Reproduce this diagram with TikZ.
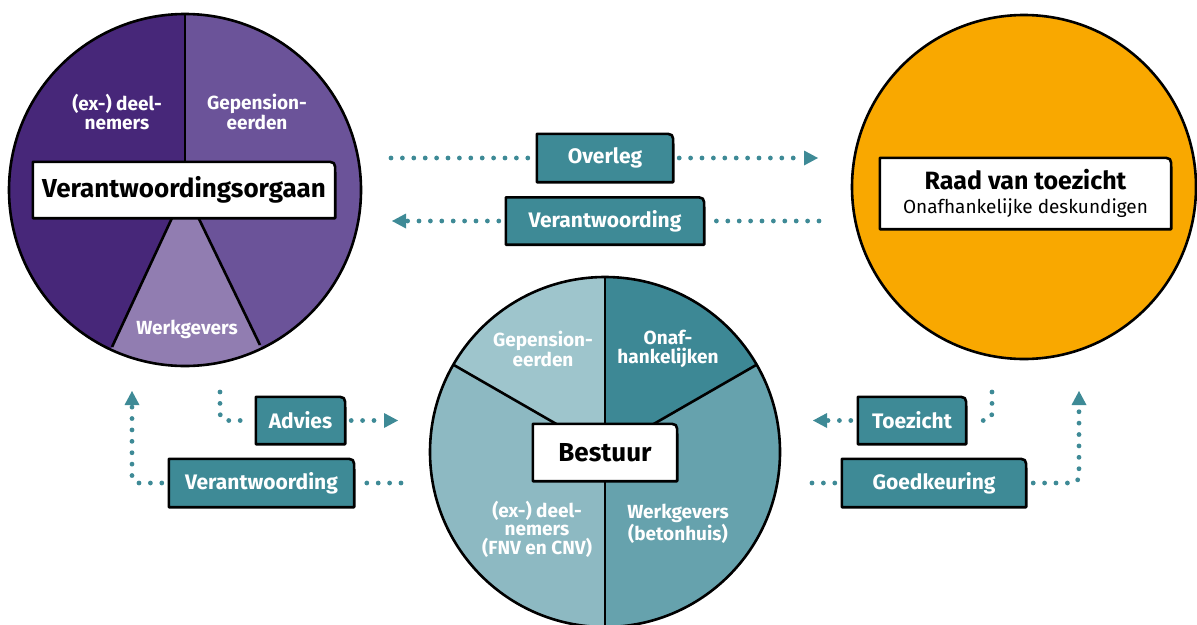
\documentclass[tikz,border=0pt]{standalone}
\usepackage{fontspec}
\setmainfont{Fira Sans}
\usetikzlibrary{arrows.meta}
\definecolor{tealbox}{HTML}{3E8A96}
\definecolor{pdark}{HTML}{472779}
\definecolor{pmid}{HTML}{6B5399}
\definecolor{plight}{HTML}{917DB1}
\definecolor{orangec}{HTML}{F9A800}
\definecolor{tdeel}{HTML}{8DB9C2}
\definecolor{tgep}{HTML}{9EC5CC}
\definecolor{tonaf}{HTML}{3D8895}
\definecolor{twerk}{HTML}{66A2AD}
\pgfdeclarelayer{bg}\pgfdeclarelayer{mid}\pgfsetlayers{bg,mid,main}
\newcommand\tagshape[2]{\begin{pgfonlayer}{mid}\draw[line width=2.6pt, fill=#2, line join=round] (#1.south west) -- (#1.north west) -- ([xshift=-11pt]#1.north east) .. controls (#1.north east) .. ([yshift=-11pt]#1.north east) -- (#1.south east) -- cycle;\end{pgfonlayer}}
\tikzset{
  tagbox/.style={inner sep=0pt, text=white, font=\bfseries\fontsize{21}{23}\selectfont},
  whitebox/.style={inner sep=0pt, text=black, font=\bfseries\fontsize{26}{28}\selectfont},
  pietext/.style={text=white, align=center, inner sep=0pt, font=\bfseries\fontsize{19}{18.5}\selectfont},
  dotline/.style={draw=tealbox, line width=4.8pt, line cap=round, dash pattern=on 0pt off 11.4pt, rounded corners=7pt},
  arr/.style={-{Triangle[length=14pt,width=15pt,line width=0pt]}},
  ring/.style={draw=black, line width=2.6pt},
  spoke/.style={draw=black, line width=2.6pt}
}
\begin{document}
\begin{tikzpicture}[x=1pt,y=-1pt]
\useasboundingbox (0,0) rectangle (1197,624);
% ---------- circles (background layer)
\begin{pgfonlayer}{bg}
 % left: Verantwoordingsorgaan
 \fill[pmid] (185,190) circle[radius=176pt];
 \begin{scope}
  \clip (185,190) circle[radius=176pt];
  \fill[pdark] (185,190) -- (185,-20) -- (-40,-20) -- (-40,661) -- (-34,661) -- cycle;
  \fill[plight] (185,190) -- (39,504) -- (335,500) -- cycle;
 \end{scope}
 \draw[spoke] (185,14) -- (185,190);
 \draw[spoke] (112,347) -- (185,190) -- (260,345);
 \draw[ring] (185,190) circle[radius=176pt];
 % right: Raad van toezicht
 \fill[orangec] (1024,187) circle[radius=172pt];
 \draw[ring] (1024,187) circle[radius=172pt];
 % bottom: Bestuur
 \fill[tdeel] (605,452) circle[radius=175pt];
 \begin{scope}
  \clip (605,452) circle[radius=175pt];
  \fill[tgep] (605,452) -- (605,0) -- (200,0) -- (172,202) -- cycle;
  \fill[tonaf] (605,452) -- (605,0) -- (1010,0) -- (1038,202) -- cycle;
  \fill[twerk] (605,452) -- (1038,202) -- (1300,452) -- (1000,900) -- (605,900) -- cycle;
 \end{scope}
 \draw[spoke] (605,277) -- (605,630);
 \draw[spoke] (453,364.5) -- (605,452) -- (757,364.5);
 \draw[ring] (605,452) circle[radius=175pt];
\end{pgfonlayer}
% ---------- texts in pies
\node[pietext] (vdeel) at (117,112) {(ex-) deel-\\nemers};
\node[pietext] (vgep) at (257,112) {Gepension-\\eerden};
\node[pietext] (vwerk) at (187,329) {Werkgevers};
\node[pietext] (bgep) at (543,349) {Gepension-\\eerden};
\node[pietext] (bonaf) at (668,349) {Onaf-\\hankelijken};
\node[pietext] (bdeel) at (537,529) {(ex-) deel-\\nemers\\(FNV en CNV)};
\node[pietext] (bwerk) at (678,524) {Werkgevers\\(betonhuis)};
% ---------- white boxes
\node[whitebox, minimum width=302pt, minimum height=56pt] (vo) at (184,190) {Verantwoordingsorgaan};
\tagshape{vo}{white}
\node[inner sep=0pt, minimum width=291pt, minimum height=71pt, align=center, font=\fontsize{19}{24}\selectfont] (raad) at (1025.5,193.5) {{\bfseries\fontsize{25}{24}\selectfont Raad van toezicht}\\Onafhankelijke deskundigen};
\tagshape{raad}{white}
\node[whitebox, minimum width=144pt, minimum height=57pt] (best) at (605,452.5) {Bestuur};
\tagshape{best}{white}
% ---------- teal tag boxes
\node[tagbox, minimum width=136pt, minimum height=48pt] (ov) at (605,158) {Overleg};
\tagshape{ov}{tealbox}
\node[tagbox, minimum width=198pt, minimum height=47pt] (va) at (605,221) {Verantwoording};
\tagshape{va}{tealbox}
\node[tagbox, minimum width=89pt, minimum height=47pt] (ad) at (300.5,420.5) {Advies};
\tagshape{ad}{tealbox}
\node[tagbox, minimum width=185pt, minimum height=48pt] (vb) at (261.5,483) {Verantwoording};
\tagshape{vb}{tealbox}
\node[tagbox, minimum width=108pt, minimum height=47pt] (tz) at (912,420.5) {Toezicht};
\tagshape{tz}{tealbox}
\node[tagbox, minimum width=184pt, minimum height=48pt] (gk) at (934,483) {Goedkeuring};
\tagshape{gk}{tealbox}
% ---------- free ends
\coordinate (ovL) at (391,158);
\coordinate (ovR) at (818,158);
\coordinate (vaL) at (392,221);
\coordinate (vaR) at (819,221);
\coordinate (adT) at (220,392);
\coordinate (adR) at (398,420.5);
\coordinate (vbR) at (401,483);
\coordinate (vbU) at (132,391);
\coordinate (tzT) at (992,392);
\coordinate (tzL) at (813,420.5);
\coordinate (gkL) at (812,483);
\coordinate (gkU) at (1079,391);
% ---------- connectors
\draw[dotline, shorten >=7pt] (ovL) -- (ov.west);
\draw[dotline, arr, shorten <=6pt] (ov.east) -- (ovR);
\draw[dotline, shorten >=6pt] (vaR) -- (va.east);
\draw[dotline, arr, shorten <=7pt] (va.west) -- (vaL);
\draw[dotline, shorten >=7pt] (adT) |- (ad.west);
\draw[dotline, arr, shorten <=6pt] (ad.east) -- (adR);
\draw[dotline, shorten >=7pt] (vbR) -- (vb.east);
\draw[dotline, arr, shorten <=7pt] (vb.west) -| (vbU);
\draw[dotline, shorten >=7pt] (tzT) |- (tz.east);
\draw[dotline, arr, shorten <=7pt] (tz.west) -- (tzL);
\draw[dotline, shorten >=7pt] (gkL) -- (gk.west);
\draw[dotline, arr, shorten <=7pt] (gk.east) -| (gkU);
\end{tikzpicture}
\end{document}
